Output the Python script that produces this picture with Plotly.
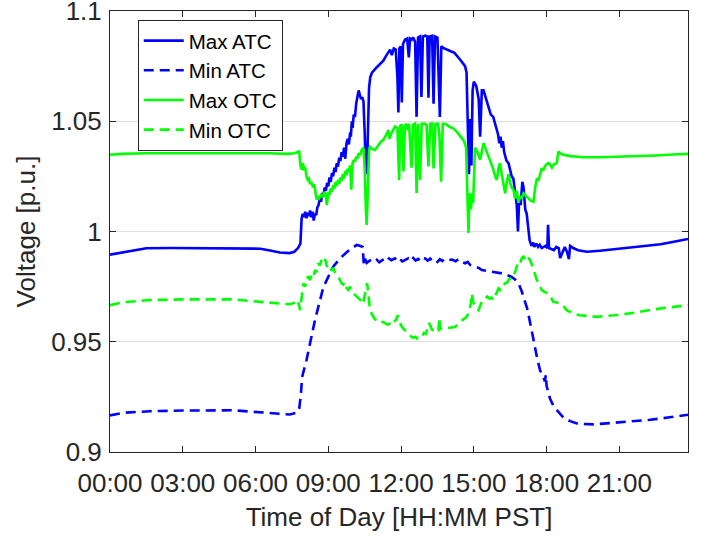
import plotly.graph_objects as go

# ---- Max ATC (solid blue) ----
max_atc_t = [0.0, 0.5, 1.0, 1.5, 2.5, 4.0, 5.5, 6.2, 6.6, 7.0, 7.4, 7.6, 7.75, 7.85, 7.9, 7.95,
             8.0, 8.05, 8.1, 8.15, 8.2, 8.25, 8.3, 8.35, 8.4, 8.45, 8.5, 8.55, 8.6, 8.65, 8.7,
             8.75, 8.8, 8.85, 8.9, 8.95, 9.0, 9.05, 9.1, 9.15, 9.2, 9.25, 9.3, 9.35, 9.4, 9.45,
             9.5, 9.55, 9.6, 9.65, 9.7, 9.75, 9.8, 9.85, 9.9, 9.93, 9.97, 10.0, 10.05, 10.1,
             10.15, 10.2, 10.25, 10.3, 10.35, 10.4, 10.45, 10.5, 10.55, 10.6, 10.68, 10.73,
             10.8, 11.0, 11.27, 11.4, 11.55, 11.62, 11.7, 11.78, 11.85, 11.89, 11.93, 11.98,
             12.03, 12.08, 12.16, 12.25, 12.32, 12.37, 12.44, 12.5, 12.58, 12.64, 12.7, 12.78,
             12.84, 12.9, 13.0, 13.08, 13.13, 13.18, 13.28, 13.34, 13.4, 13.5, 13.6, 13.66,
             13.74, 14.0, 14.2, 14.43, 14.64, 14.7, 14.75, 14.8, 14.85, 14.9, 14.95, 15.0,
             15.1, 15.2, 15.26, 15.33, 15.4, 15.5, 15.6, 15.7, 15.8, 15.9, 16.0, 16.05, 16.1,
             16.15, 16.2, 16.25, 16.3, 16.35, 16.43, 16.5, 16.56, 16.63, 16.7, 16.77, 16.82,
             16.87, 16.93, 17.0, 17.05, 17.12, 17.18, 17.25, 17.3, 17.38, 17.45, 17.5, 17.58,
             17.65, 17.72, 17.8, 17.88, 17.95, 18.03, 18.06, 18.1, 18.2, 18.3, 18.4, 18.5,
             18.56, 18.62, 18.75, 18.85, 18.92, 18.97, 19.1, 19.3, 19.66, 20.2, 21.0, 21.6,
             22.2, 22.7, 23.3, 23.83]
max_atc_v = [0.9895, 0.9905, 0.9915, 0.9924, 0.9925, 0.9925, 0.9925, 0.9922, 0.9914, 0.9905,
             0.9902, 0.9908, 0.9925, 0.9945, 1.0060, 1.0080, 1.0065, 1.0090, 1.0060, 1.0085,
             1.0070, 1.0095, 1.0065, 1.0090, 1.0050, 1.0080, 1.0075, 1.0110, 1.0120, 1.0155,
             1.0135, 1.0175, 1.0160, 1.0200, 1.0185, 1.0220, 1.0205, 1.0245, 1.0225, 1.0265,
             1.0250, 1.0290, 1.0270, 1.0310, 1.0295, 1.0335, 1.0320, 1.0360, 1.0340, 1.0380,
             1.0330, 1.0400, 1.0420, 1.0395, 1.0450, 1.0430, 1.0500, 1.0470, 1.0530, 1.0520,
             1.0580, 1.0610, 1.0640, 1.0620, 1.0600, 1.0610, 1.0590, 1.0450, 1.0260, 1.0300,
             1.0650, 1.0700, 1.0720, 1.0745, 1.0775, 1.0800, 1.0825, 1.0800, 1.0830, 1.0825,
             1.0700, 1.0540, 1.0830, 1.0840, 1.0585, 1.0850, 1.0870, 1.0875, 1.0790, 1.0875,
             1.0870, 1.0880, 1.0860, 1.0520, 1.0880, 1.0885, 1.0610, 1.0885, 1.0888, 1.0885,
             1.0607, 1.0885, 1.0888, 1.0580, 1.0885, 1.0880, 1.0520, 1.0840, 1.0833, 1.0820,
             1.0810, 1.0780, 1.0750, 1.0720, 1.0470, 1.0260, 1.0510, 1.0300, 1.0640, 1.0680,
             1.0660, 1.0600, 1.0430, 1.0640, 1.0640, 1.0600, 1.0560, 1.0530, 1.0520, 1.0480,
             1.0440, 1.0400, 1.0430, 1.0380, 1.0410, 1.0360, 1.0340, 1.0320, 1.0310, 1.0270,
             1.0250, 1.0240, 1.0180, 1.0120, 1.0000, 1.0150, 1.0120, 1.0225, 1.0200, 1.0100,
             1.0080, 1.0000, 0.9960, 0.9935, 0.9950, 0.9930, 0.9945, 0.9930, 0.9940, 0.9925,
             0.9930, 0.9935, 0.9925, 1.0030, 0.9925, 0.9920, 0.9915, 0.9930, 0.9925, 0.9880,
             0.9895, 0.9930, 0.9905, 0.9875, 0.9935, 0.9925, 0.9915, 0.9908, 0.9913, 0.9922,
             0.9930, 0.9935, 0.9942, 0.9955, 0.9966]

# ---- Min ATC (dashed blue) ----
min_atc_t = [0.0, 0.6, 1.65, 3.0, 5.07, 6.05, 7.0, 7.42, 7.7, 7.8, 7.87, 7.92, 8.1, 8.45, 8.8,
             9.2, 9.5, 9.8, 10.0, 10.17, 10.3, 10.42, 10.46, 10.5, 10.58, 10.7, 10.79, 10.9,
             11.0, 11.1, 11.2, 11.3, 11.4, 11.5, 11.6, 11.75, 11.85, 11.95, 12.05, 12.16,
             12.3, 12.4, 12.5, 12.6, 12.7, 12.8, 12.9, 12.99, 13.1, 13.2, 13.3, 13.4, 13.5,
             13.6, 13.7, 13.8, 13.95, 14.1, 14.25, 14.36, 14.5, 14.64, 14.75, 14.85, 15.05,
             15.2, 15.33, 15.5, 15.74, 15.95, 16.15, 16.35, 16.56, 16.7, 16.84, 16.97, 17.1,
             17.2, 17.3, 17.38, 17.46, 17.6, 17.73, 17.85, 17.93, 17.97, 18.0, 18.07, 18.14,
             18.3, 18.49, 18.7, 18.97, 19.3, 19.93, 20.9, 21.6, 22.27, 23.0, 23.83]
min_atc_v = [0.9166, 0.9178, 0.9185, 0.9188, 0.9189, 0.9181, 0.9173, 0.9170, 0.9178, 0.9196,
             0.9260, 0.9340, 0.9416, 0.9598, 0.9749, 0.9840, 0.9880, 0.9910, 0.9925, 0.9939,
             0.9935, 0.9930, 0.9856, 0.9880, 0.9858, 0.9868, 0.9870, 0.9862, 0.9872, 0.9860,
             0.9868, 0.9875, 0.9865, 0.9878, 0.9870, 0.9878, 0.9866, 0.9876, 0.9864, 0.9870,
             0.9878, 0.9866, 0.9880, 0.9868, 0.9876, 0.9866, 0.9880, 0.9878, 0.9868, 0.9877,
             0.9866, 0.9872, 0.9862, 0.9874, 0.9866, 0.9876, 0.9870, 0.9873, 0.9865, 0.9874,
             0.9862, 0.9856, 0.9862, 0.9848, 0.9840, 0.9835, 0.9825, 0.9822, 0.9817, 0.9814,
             0.9810, 0.9803, 0.9794, 0.9782, 0.9765, 0.9730, 0.9689, 0.9650, 0.9598, 0.9550,
             0.9507, 0.9431, 0.9370, 0.9345, 0.9320, 0.9350, 0.9300, 0.9265, 0.9242, 0.9205,
             0.9180, 0.9155, 0.9140, 0.9128, 0.9125, 0.9133, 0.9140, 0.9146, 0.9156, 0.9169]

# ---- Max OTC (solid green) ----
max_otc_t = [0.0, 0.5, 1.5, 3.0, 5.0, 6.5, 7.3, 7.6, 7.8, 7.85, 7.9, 7.95, 8.0, 8.05, 8.1,
             8.15, 8.2, 8.25, 8.3, 8.37, 8.42, 8.47, 8.52, 8.57, 8.62, 8.66, 8.72, 8.78, 8.84,
             8.9, 8.94, 9.0, 9.05, 9.1, 9.15, 9.2, 9.25, 9.3, 9.35, 9.4, 9.45, 9.5, 9.55, 9.6,
             9.65, 9.7, 9.75, 9.8, 9.85, 9.9, 9.95, 10.0, 10.05, 10.1, 10.15, 10.2, 10.25,
             10.3, 10.38, 10.45, 10.5, 10.55, 10.58, 10.62, 10.68, 10.72, 10.8, 10.93, 11.05,
             11.15, 11.27, 11.35, 11.42, 11.48, 11.52, 11.6, 11.68, 11.75, 11.85, 11.92,
             11.97, 12.03, 12.1, 12.16, 12.22, 12.27, 12.33, 12.43, 12.5, 12.58, 12.64, 12.7,
             12.78, 12.85, 12.95, 13.05, 13.13, 13.2, 13.28, 13.34, 13.42, 13.52, 13.58,
             13.65, 13.72, 13.85, 14.0, 14.15, 14.3, 14.43, 14.6, 14.68, 14.74, 14.78, 14.82,
             14.88, 14.93, 14.97, 15.05, 15.15, 15.26, 15.33, 15.4, 15.5, 15.6, 15.67, 15.78,
             15.88, 15.95, 16.02, 16.08, 16.15, 16.22, 16.29, 16.35, 16.43, 16.5, 16.56,
             16.63, 16.7, 16.77, 16.84, 16.9, 16.97, 17.05, 17.15, 17.25, 17.35, 17.46, 17.53,
             17.6, 17.66, 17.72, 17.8, 17.86, 17.93, 18.0, 18.07, 18.14, 18.22, 18.3, 18.42,
             18.46, 18.49, 18.6, 18.7, 19.0, 19.5, 20.2, 21.0, 21.57, 22.5, 23.2, 23.83]
max_otc_v = [1.0348, 1.0352, 1.0355, 1.0356, 1.0356, 1.0355, 1.0352, 1.0355, 1.0363, 1.0300,
             1.0280, 1.0310, 1.0285, 1.0290, 1.0250, 1.0235, 1.0240, 1.0215, 1.0225, 1.0200,
             1.0215, 1.0170, 1.0145, 1.0160, 1.0150, 1.0157, 1.0170, 1.0155, 1.0180, 1.0165,
             1.0120, 1.0180, 1.0165, 1.0195, 1.0180, 1.0210, 1.0195, 1.0225, 1.0205, 1.0235,
             1.0215, 1.0245, 1.0230, 1.0260, 1.0240, 1.0275, 1.0255, 1.0285, 1.0270, 1.0300,
             1.0190, 1.0310, 1.0325, 1.0315, 1.0340, 1.0330, 1.0355, 1.0345, 1.0370, 1.0380,
             1.0290, 1.0100, 1.0030, 1.0150, 1.0370, 1.0384, 1.0375, 1.0370, 1.0390, 1.0405,
             1.0416, 1.0430, 1.0445, 1.0460, 1.0420, 1.0445, 1.0465, 1.0476, 1.0470, 1.0234,
             1.0480, 1.0485, 1.0272, 1.0480, 1.0488, 1.0460, 1.0488, 1.0289, 1.0485, 1.0490,
             1.0175, 1.0488, 1.0234, 1.0489, 1.0490, 1.0485, 1.0295, 1.0488, 1.0490, 1.0286,
             1.0488, 1.0489, 1.0440, 1.0226, 1.0489, 1.0487, 1.0475, 1.0468, 1.0452, 1.0432,
             1.0410, 1.0380, 1.0200, 0.9993, 1.0173, 1.0100, 1.0173, 1.0130, 1.0380, 1.0360,
             1.0325, 1.0370, 1.0400, 1.0370, 1.0340, 1.0325, 1.0290, 1.0250, 1.0234, 1.0290,
             1.0310, 1.0260, 1.0215, 1.0173, 1.0220, 1.0260, 1.0220, 1.0200, 1.0190, 1.0150,
             1.0185, 1.0130, 1.0160, 1.0150, 1.0173, 1.0160, 1.0150, 1.0140, 1.0135, 1.0200,
             1.0240, 1.0230, 1.0260, 1.0287, 1.0275, 1.0295, 1.0305, 1.0310, 1.0305, 1.0290,
             1.0305, 1.0310, 1.0345, 1.0363, 1.0352, 1.0348, 1.0342, 1.0337, 1.0337, 1.0339,
             1.0340, 1.0345, 1.0349, 1.0352]

# ---- Min OTC (dashed green) ----
min_otc_t = [0.0, 0.6, 1.65, 3.0, 5.08, 6.05, 7.0, 7.42, 7.65, 7.74, 7.8, 7.84, 7.9, 7.97,
             8.05, 8.1, 8.18, 8.25, 8.32, 8.4, 8.45, 8.52, 8.59, 8.65, 8.72, 8.8, 8.85, 8.9,
             8.94, 9.0, 9.07, 9.14, 9.2, 9.28, 9.35, 9.42, 9.48, 9.55, 9.62, 9.68, 9.76, 9.83,
             9.9, 9.97, 10.05, 10.1, 10.17, 10.25, 10.32, 10.38, 10.45, 10.52, 10.6, 10.65,
             10.72, 10.8, 10.9, 11.0, 11.07, 11.15, 11.25, 11.34, 11.45, 11.55, 11.62, 11.7,
             11.8, 11.86, 11.9, 11.98, 12.05, 12.16, 12.25, 12.35, 12.44, 12.5, 12.58, 12.65,
             12.72, 12.8, 12.88, 12.95, 13.02, 13.1, 13.15, 13.2, 13.27, 13.35, 13.42, 13.48,
             13.54, 13.58, 13.62, 13.7, 13.81, 13.95, 14.1, 14.23, 14.33, 14.43, 14.55, 14.71,
             14.8, 14.88, 14.92, 14.97, 15.05, 15.12, 15.19, 15.28, 15.36, 15.46, 15.55, 15.65,
             15.73, 15.81, 15.9, 15.96, 16.02, 16.1, 16.2, 16.29, 16.38, 16.46, 16.56, 16.63,
             16.72, 16.8, 16.84, 16.91, 16.98, 17.05, 17.12, 17.18, 17.25, 17.32, 17.39, 17.46,
             17.53, 17.6, 17.7, 17.8, 17.93, 18.07, 18.18, 18.28, 18.42, 18.56, 18.7, 18.83,
             19.1, 19.38, 20.07, 20.8, 21.58, 22.3, 23.0, 23.83]
min_otc_v = [0.9666, 0.9680, 0.9689, 0.9692, 0.9692, 0.9681, 0.9673, 0.9670, 0.9678, 0.9689,
             0.9650, 0.9643, 0.9700, 0.9765, 0.9750, 0.9790, 0.9794, 0.9780, 0.9810, 0.9800,
             0.9825, 0.9815, 0.9856, 0.9845, 0.9870, 0.9886, 0.9875, 0.9865, 0.9840, 0.9850,
             0.9830, 0.9825, 0.9835, 0.9815, 0.9810, 0.9790, 0.9780, 0.9765, 0.9760, 0.9770,
             0.9742, 0.9735, 0.9750, 0.9726, 0.9720, 0.9712, 0.9704, 0.9698, 0.9690, 0.9700,
             0.9681, 0.9720, 0.9765, 0.9720, 0.9643, 0.9625, 0.9605, 0.9595, 0.9590, 0.9585,
             0.9590, 0.9583, 0.9578, 0.9582, 0.9575, 0.9590, 0.9600, 0.9620, 0.9598, 0.9580,
             0.9565, 0.9552, 0.9540, 0.9530, 0.9522, 0.9518, 0.9522, 0.9515, 0.9525, 0.9520,
             0.9528, 0.9540, 0.9535, 0.9560, 0.9585, 0.9575, 0.9555, 0.9550, 0.9560, 0.9555,
             0.9552, 0.9610, 0.9560, 0.9558, 0.9560, 0.9562, 0.9565, 0.9567, 0.9580, 0.9590,
             0.9600, 0.9613, 0.9640, 0.9674, 0.9719, 0.9680, 0.9660, 0.9650, 0.9643, 0.9665,
             0.9690, 0.9696, 0.9705, 0.9695, 0.9700, 0.9689, 0.9710, 0.9730, 0.9742, 0.9735,
             0.9755, 0.9765, 0.9770, 0.9785, 0.9787, 0.9794, 0.9820, 0.9845, 0.9863, 0.9856,
             0.9880, 0.9886, 0.9875, 0.9890, 0.9880, 0.9870, 0.9850, 0.9825, 0.9800, 0.9780,
             0.9760, 0.9734, 0.9725, 0.9719, 0.9700, 0.9681, 0.9678, 0.9674, 0.9660, 0.9643,
             0.9628, 0.9620, 0.9613, 0.9620, 0.9631, 0.9645, 0.9655, 0.9666]

# ---- Axis ticks ----
x_tickvals = [0, 3, 6, 9, 12, 15, 18, 21]
x_ticktext = ["00:00", "03:00", "06:00", "09:00", "12:00", "15:00", "18:00", "21:00"]
y_tickvals = [0.9, 0.95, 1.0, 1.05, 1.1]
y_ticktext = ["0.9", "0.95", "1", "1.05", "1.1"]

BLUE = "#0000FF"
GREEN = "#00FF00"
TXT = "#262626"
FONT = "Liberation Sans, Arial, Helvetica, sans-serif"
DASH = "10px,6px"
LW = 2.6

fig = go.Figure()
fig.add_trace(go.Scatter(x=max_atc_t, y=max_atc_v, mode="lines", name="Max ATC",
                         line=dict(color=BLUE, width=LW)))
fig.add_trace(go.Scatter(x=min_atc_t, y=min_atc_v, mode="lines", name="Min ATC",
                         line=dict(color=BLUE, width=LW, dash=DASH)))
fig.add_trace(go.Scatter(x=max_otc_t, y=max_otc_v, mode="lines", name="Max OTC",
                         line=dict(color=GREEN, width=LW)))
fig.add_trace(go.Scatter(x=min_otc_t, y=min_otc_v, mode="lines", name="Min OTC",
                         line=dict(color=GREEN, width=LW, dash=DASH)))

fig.update_layout(
    width=707, height=536,
    margin=dict(l=110, r=19, t=11, b=84, autoexpand=False),
    paper_bgcolor="white", plot_bgcolor="white",
    font=dict(family=FONT, color=TXT, size=26),
    showlegend=True,
    legend=dict(
        x=0.048, y=0.98, xanchor="left", yanchor="top",
        bgcolor="white", bordercolor=TXT, borderwidth=1,
        font=dict(family=FONT, size=20.5, color="#000000"),
        itemwidth=40, tracegroupgap=0,
    ),
    xaxis=dict(
        range=[0, 23.83], tickmode="array", tickvals=x_tickvals, ticktext=x_ticktext,
        showgrid=False, zeroline=False, automargin=False,
        showline=True, linecolor=TXT, linewidth=1, mirror="ticks",
        ticks="inside", ticklen=6, tickcolor=TXT, ticklabelstandoff=8,
        tickfont=dict(size=26, color=TXT),
        title=dict(text="Time of Day [HH:MM PST]", font=dict(size=26, color=TXT), standoff=10),
    ),
    yaxis=dict(
        range=[0.89999, 1.10001], tickmode="array", tickvals=y_tickvals, ticktext=y_ticktext,
        showgrid=True, gridcolor="#DFDFDF", gridwidth=1, zeroline=False, automargin=False,
        showline=True, linecolor=TXT, linewidth=1, mirror="ticks",
        ticks="inside", ticklen=6, tickcolor=TXT, ticklabelstandoff=2,
        ticklabeloverflow="allow",
        tickfont=dict(size=26, color=TXT),
        title=dict(text="Voltage [p.u.]", font=dict(size=26, color=TXT), standoff=8),
    ),
)

fig.write_html("out.html")
